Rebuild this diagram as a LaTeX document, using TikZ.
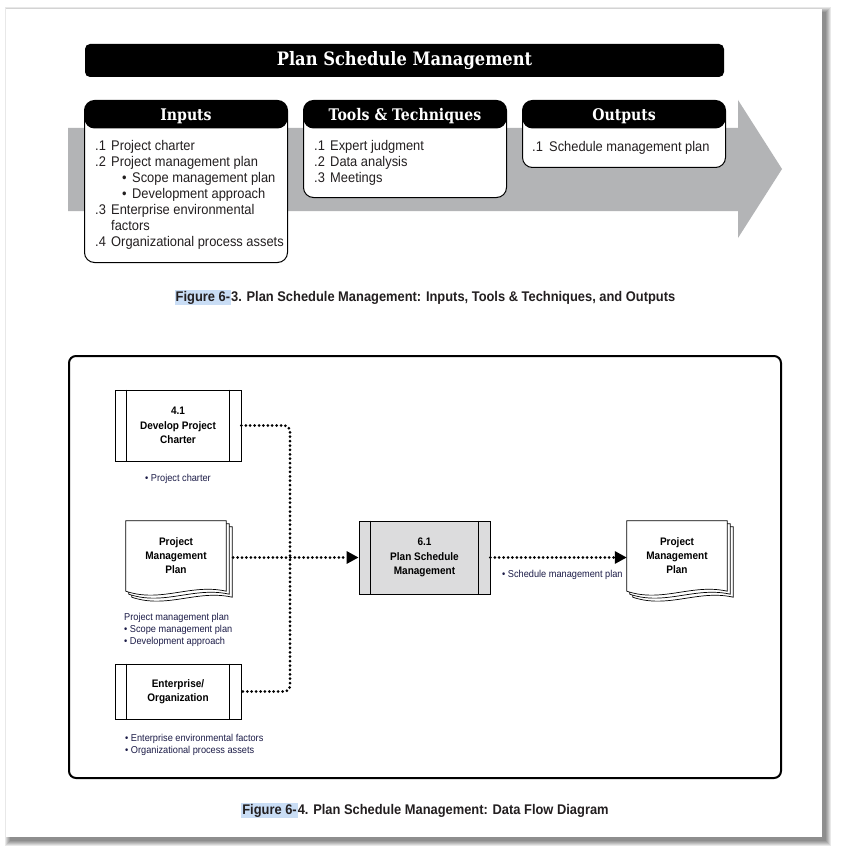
\documentclass[tikz,border=0pt]{standalone}
\usepackage{fontspec}
\setmainfont{Liberation Sans}[FakeStretch=0.92]
\newfontfamily\slabfont{DejaVu Serif}[FakeStretch=0.88]
\usetikzlibrary{arrows.meta, positioning, calc}
\definecolor{arrowgray}{HTML}{B3B4B6}
\definecolor{procgray}{HTML}{DCDCDD}
\definecolor{labelnavy}{HTML}{1C1C48}
\definecolor{selblue}{HTML}{C9DDF5}
\definecolor{inkblack}{HTML}{231F20}

% stacked document pages behind a docbox node
\newcommand\pagestack[1]{%
  \foreach \o in {6,3,0} {
    \filldraw[fill=white, draw=black, line width=0.7pt]
      ($(#1.north west)+(\o pt,-\o pt)$) -- ($(#1.north east)+(\o pt,-\o pt)$)
      -- ($(#1.south east)+(\o pt,-\o pt)$)
      .. controls +(-35pt,8pt) and +(35pt,-12pt) .. ($(#1.south west)+(\o pt,-\o pt)$) -- cycle;
  }%
}

\begin{document}
\begin{tikzpicture}[x=1pt, y=-1pt,
  banner/.style={fill=black, rounded corners=5pt, minimum width=639pt, minimum height=33pt, text=white, font=\slabfont\fontsize{18.5}{20}\selectfont\bfseries},
  ittobox/.style={draw=black, line width=1pt, fill=white, rounded corners=10pt, minimum width=203pt, anchor=north west, path picture={\fill[black] (path picture bounding box.north west) rectangle ([yshift=-28pt]path picture bounding box.north east);}},
  ittohead/.style={text=white, font=\slabfont\fontsize{16}{18}\selectfont\bfseries},
  ittolist/.style={anchor=north west, inner sep=0pt, align=left, text=inkblack, font=\fontsize{14}{16}\selectfont},
  caption/.style={font=\fontsize{14}{16}\selectfont\bfseries, text=inkblack},
  procbox/.style={draw=black, line width=0.8pt, fill=white, minimum width=126pt, minimum height=71pt, align=center, font=\fontsize{10.9}{14.5}\selectfont\bfseries},
  docbox/.style={minimum width=100pt, minimum height=70pt},
  doctext/.style={align=center, font=\fontsize{10.9}{14}\selectfont\bfseries},
  smalltxt/.style={inner sep=0pt, align=left, text=labelnavy, font=\fontsize{10}{12}\selectfont},
  flow/.style={line width=3pt, dash pattern=on 0pt off 4.4pt, line cap=round},
  flowtip/.style={-{Triangle[length=12pt, width=12pt]}}
]
  \useasboundingbox (0,0) rectangle (841,853);
  \fill[white] (0,0) rectangle (841,853);
  % page and its shadow
  \foreach \s in {0,...,5}
    \fill[black, opacity=0.09] (10-\s,12-\s) rectangle (826+\s,841+\s);
  \fill[white] (6,9) rectangle (822,837);

  % ---- Figure 6-3 ----
  \node[banner] (title) at (404.5,60.5) {Plan Schedule Management};

  \fill[arrowgray] (68,128) -- (738,128) -- (738,100) -- (782,169) -- (738,238) -- (738,211) -- (68,211) -- cycle;

  \node[ittobox, minimum height=162pt] (inputs) at (84,100) {};
  \node[ittobox, minimum height=97pt] (tools) at (303,100) {};
  \node[ittobox, minimum height=67pt] (outputs) at (522,100) {};

  \node[ittohead] (inputs-h) at ([yshift=-16pt]inputs.north) {Inputs};
  \node[ittohead] (tools-h) at ([yshift=-16pt]tools.north) {Tools \& Techniques};
  \node[ittohead] (outputs-h) at ([yshift=-16pt]outputs.north) {Outputs};

  \node[ittolist] (inputs-l) at (95,140.5) {
    \makebox[16pt][l]{.1}Project charter\\
    \makebox[16pt][l]{.2}Project management plan\\
    \hspace*{27pt}\makebox[10pt][l]{\textbullet}Scope management plan\\
    \hspace*{27pt}\makebox[10pt][l]{\textbullet}Development approach\\
    \makebox[16pt][l]{.3}Enterprise environmental\\
    \hspace*{16pt}factors\\
    \makebox[16pt][l]{.4}Organizational process assets};
  \node[ittolist] (tools-l) at (314,140.5) {
    \makebox[16pt][l]{.1}Expert judgment\\
    \makebox[16pt][l]{.2}Data analysis\\
    \makebox[16pt][l]{.3}Meetings};
  \node[ittolist] (outputs-l) at (532,141.5) {
    \makebox[17pt][l]{.1}Schedule management plan};

  \node[caption] (cap1) at (425,297.5) {\setlength{\fboxsep}{1pt}\colorbox{selblue}{Figure 6-}3. Plan Schedule Management: Inputs, Tools \& Techniques, and Outputs};

  % ---- Figure 6-4 ----
  \draw[line width=2pt, rounded corners=7pt] (69,356) rectangle (781,778);

  \node[procbox] (charter) at (178,425.5) {4.1\\Develop Project\\Charter};
  \node[procbox, minimum height=55pt] (org) at (178,691.5) {Enterprise/\\Organization};
  \node[procbox, fill=procgray, minimum width=131pt, minimum height=73pt] (psm) at (424.5,557.5) {6.1\\Plan Schedule\\Management};
  \foreach \n in {charter, org, psm}
    \draw[line width=0.8pt] ([xshift=12pt]\n.north west) -- ([xshift=12pt]\n.south west)
      ([xshift=-12pt]\n.north east) -- ([xshift=-12pt]\n.south east);

  \node[docbox] (pmp) at (176,556) {};
  \pagestack{pmp}
  \node[doctext] (pmp-t) at (pmp) {Project\\Management\\Plan};
  \node[docbox] (out) at (677,556) {};
  \pagestack{out}
  \node[doctext] (out-t) at (out) {Project\\Management\\Plan};

  \node[smalltxt, anchor=west] (charter-l) at (145,478.5) {\textbullet\ Project charter};
  \node[smalltxt, anchor=north west] (pmp-l) at (124,613) {Project management plan\\ \textbullet\ Scope management plan\\ \textbullet\ Development approach};
  \node[smalltxt, anchor=north west] (org-l) at (125,734) {\textbullet\ Enterprise environmental factors\\ \textbullet\ Organizational process assets};
  \node[smalltxt, anchor=west] (out-l) at (502,574.5) {\textbullet\ Schedule management plan};

  \coordinate (jn) at (290,557.5);
  \draw[flow, rounded corners=6pt] (charter.east) -| (jn) |- (org.east);
  \draw[flow, flowtip] ($(pmp.east |- jn)+(7pt,0)$) -- (psm.west);
  \draw[flow, flowtip] (psm.east) -- (out.west |- psm.east);

  \node[caption] (cap2) at (425,810.5) {\setlength{\fboxsep}{1pt}\colorbox{selblue}{Figure 6-}4. Plan Schedule Management: Data Flow Diagram};
\end{tikzpicture}
\end{document}
